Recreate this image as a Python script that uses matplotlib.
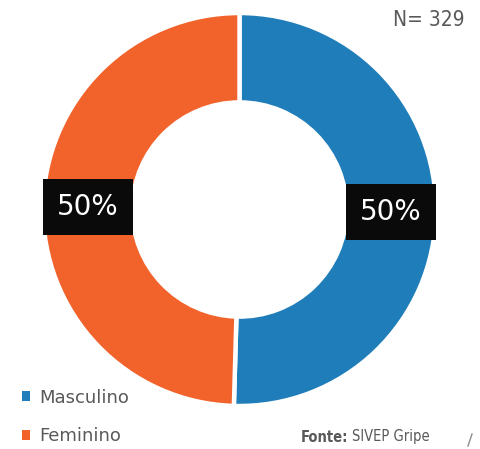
import matplotlib.pyplot as plt
from matplotlib.lines import Line2D

# data
labels = ['Masculino', 'Feminino']
values = [166, 163]
colors = ['#1f7db9', '#f2632c']
total_n = 329
source = 'SIVEP Gripe'

W, H = 481, 449
fig = plt.figure(figsize=(W / 100, H / 100), dpi=100)
ax = fig.add_axes([0, 0, 1, 1])

R = 196.5
wedges, texts, autotexts = ax.pie(
    values, colors=colors, startangle=90, counterclock=False,
    radius=R, center=(239.5, H - 209.5), frame=True,
    wedgeprops=dict(width=R * 0.455, edgecolor='white', linewidth=3.2),
    autopct=lambda p: f'{p:.0f}%', pctdistance=0.772,
    textprops=dict(color='white', fontsize=20))
for t in autotexts:
    t.set_bbox(dict(boxstyle='square,pad=0.5', facecolor='#0a0a0a', edgecolor='none'))

ax.set_xlim(0, W)
ax.set_ylim(0, H)
ax.set_aspect('equal')
ax.axis('off')

leg = ax.legend(wedges, labels, loc='center left', bbox_to_anchor=(22 / W, 32 / H),
                bbox_transform=fig.transFigure, frameon=False, fontsize=13,
                handlelength=0.45, handleheight=0.45, handletextpad=0.5,
                labelspacing=1.15, borderpad=0, borderaxespad=0)
for t in leg.get_texts():
    t.set_color('#595959')
for h in leg.legend_handles:
    h.set_edgecolor('none')

fig.text(465 / W, 1 - 20 / H, f'N= {total_n}', ha='right', va='center',
         fontsize=15, color='#595959', family='DejaVu Sans', stretch='condensed')
ft = fig.text(301 / W, 1 - 437 / H, 'Fonte:', ha='left', va='center',
              fontsize=10.5, color='#595959', fontweight='bold',
              family='DejaVu Sans', stretch='condensed')
fig.canvas.draw()
bb = ft.get_window_extent()
fig.text((bb.x1 + 4) / W, 1 - 437 / H, source, ha='left', va='center',
         fontsize=10.5, color='#595959', family='DejaVu Sans', stretch='condensed')

fig.add_artist(Line2D([468 / W, 472 / W], [1 - 446 / H, 1 - 434 / H],
                      color='#8c8c8c', linewidth=1, transform=fig.transFigure))

fig.savefig('out.png', dpi=100)
